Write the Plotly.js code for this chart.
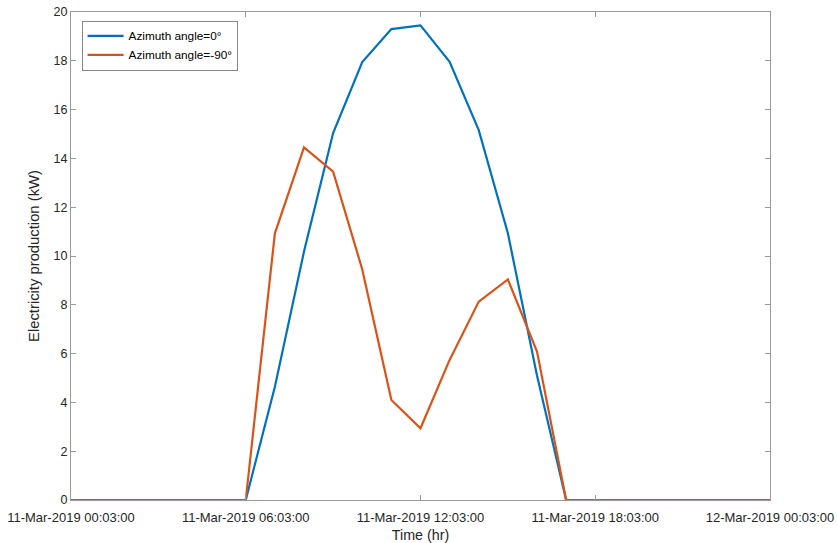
<!DOCTYPE html>
<html>
<head>
<meta charset="utf-8">
<script src="https://cdn.plot.ly/plotly-3.0.1.min.js"></script>
<style>
  html, body { margin: 0; padding: 0; background: #fff; }
  #chart { width: 837px; height: 543px; }
</style>
</head>
<body>
<div id="chart"></div>
<script>
// Hourly samples for 11 March 2019, starting at 00:03
const hourOffsets = [0,1,2,3,4,5,6,7,8,9,10,11,12,13,14,15,16,17,18,19,20,21,22,23,24];
const azimuth0 = [0,0,0,0,0,0,0,4.64,10.18,15.04,17.95,19.3,19.45,17.96,15.16,10.93,5.1,0,0,0,0,0,0,0,0];
const azimuthMinus90 = [0,0,0,0,0,0,0,10.93,14.45,13.46,9.45,4.1,2.94,5.74,8.13,9.04,6.08,0,0,0,0,0,0,0,0];
const seriesNames = ['Azimuth angle=0°', 'Azimuth angle=-90°'];
const tickHours = [0, 6, 12, 18, 24];
const yTicks = [0, 2, 4, 6, 8, 10, 12, 14, 16, 18, 20];

const start = Date.UTC(2019, 2, 11, 0, 3, 0);
function stamp(h) {
  const d = new Date(start + h * 3600 * 1000);
  const p = n => String(n).padStart(2, '0');
  return d.getUTCFullYear() + '-' + p(d.getUTCMonth() + 1) + '-' + p(d.getUTCDate()) +
    ' ' + p(d.getUTCHours()) + ':' + p(d.getUTCMinutes()) + ':' + p(d.getUTCSeconds());
}
const xs = hourOffsets.map(stamp);
const tickVals = tickHours.map(stamp);

const font = 'Liberation Sans, Arial, sans-serif';

const traces = [
  { x: xs, y: azimuth0, name: seriesNames[0], mode: 'lines',
    line: { color: '#0072BD', width: 2.2 } },
  { x: xs, y: azimuthMinus90, name: seriesNames[1], mode: 'lines',
    line: { color: '#D95319', width: 2.2 } }
];

const axisCommon = {
  showgrid: false, zeroline: false, showline: true, linecolor: '#999999', linewidth: 1,
  mirror: 'ticks', ticks: 'inside', ticklen: 5, tickcolor: '#999999'
};

const layout = {
  width: 837, height: 543,
  margin: { l: 71, r: 67, t: 12, b: 43 },
  paper_bgcolor: '#fff', plot_bgcolor: '#fff',
  font: { family: font, color: '#262626' },
  showlegend: true,
  legend: {
    x: 0.0157, y: 0.982, xanchor: 'left', yanchor: 'top',
    bgcolor: '#fff', bordercolor: '#333333', borderwidth: 0.6,
    font: { family: font, size: 11.8, color: '#000' },
    itemwidth: 36, tracegroupgap: 0
  },
  xaxis: Object.assign({}, axisCommon, {
    type: 'date',
    range: [stamp(0), stamp(24)],
    tickvals: tickVals,
    tickformat: '%d-%b-%Y %H:%M:%S',
    tickfont: { family: font, size: 13, color: '#262626' },
    ticklabelstandoff: 5,
    title: { text: 'Time (hr)', font: { family: font, size: 14.3, color: '#262626' }, standoff: 6 }
  }),
  yaxis: Object.assign({}, axisCommon, {
    range: [0, 20],
    tickvals: yTicks,
    tickfont: { family: font, size: 12.5, color: '#262626' },
    title: { text: 'Electricity production (kW)', font: { family: font, size: 14.8, color: '#262626' }, standoff: 10 }
  })
};

Plotly.newPlot('chart', traces, layout, { displayModeBar: false, staticPlot: true });
</script>
</body>
</html>
